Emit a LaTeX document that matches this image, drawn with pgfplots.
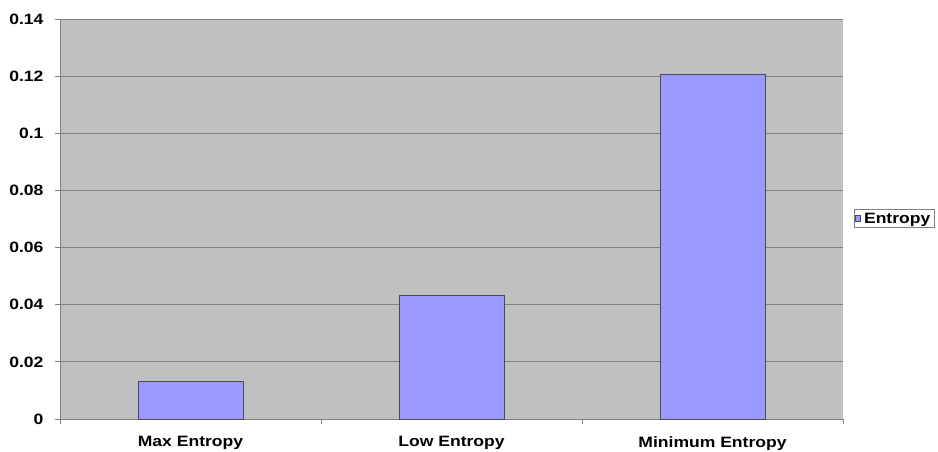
\documentclass[border=0pt]{standalone}
\usepackage{pgfplots}
\pgfplotsset{compat=1.18}
\usepackage{fontspec}
\setmainfont{Liberation Sans}
\newfontfamily\lblfont[FakeStretch=1.17]{Liberation Sans}
\definecolor{plotbg}{HTML}{C0C0C0}
\definecolor{barfill}{HTML}{9999FF}
\definecolor{gridc}{HTML}{808080}
\begin{document}
\begin{tikzpicture}
\begin{axis}[
  scale only axis,
  width=783pt, height=400pt,
  xmin=0, xmax=3, ymin=0, ymax=0.14,
  axis background/.style={fill=plotbg},
  axis x line*=bottom, axis y line*=left,
  axis line style={gridc, line width=0.8pt},
  xtick={0,1,2,3}, xticklabels={},
  extra x ticks={0.5,1.5,2.5},
  extra x tick labels={Max Entropy,Low Entropy,Minimum Entropy},
  extra x tick style={major tick length=0pt, grid=none},
  ytick={0,0.02,0.04,0.06,0.08,0.1,0.12,0.14},
  yticklabels={0,0.02,0.04,0.06,0.08,0.1,0.12,0.14},
  ymajorgrids, grid style={gridc, line width=0.8pt},
  tick align=outside, major tick length=5pt,
  tick style={gridc, line width=0.8pt},
  ticklabel style={font=\lblfont\fontsize{15}{17}\selectfont\bfseries},
  xticklabel style={yshift=-14pt},
  yticklabel style={xshift=-8pt},
  ybar, bar width=105pt,
  legend style={at={(1.0135,0.501)}, anchor=west, draw=gridc, fill=white,
    font=\lblfont\fontsize{15}{17}\selectfont\bfseries, inner sep=1pt,
    nodes={inner xsep=3pt},
    legend cell align=left},
  legend image code/.code={\draw[#1, draw=black!70] (0cm,-0.1cm) rectangle (0.2cm,0.1cm);},
]
\addplot[fill=barfill, draw=black!70, line width=0.6pt] coordinates {(0.5,0.0133) (1.5,0.0434) (2.5,0.1208)};
\addlegendentry{Entropy}
\end{axis}
\pgfresetboundingbox
\useasboundingbox ([shift={(-60pt,-32pt)}]current axis.south west) rectangle ([shift={(878pt,419pt)}]current axis.south west);
\end{tikzpicture}
\end{document}
